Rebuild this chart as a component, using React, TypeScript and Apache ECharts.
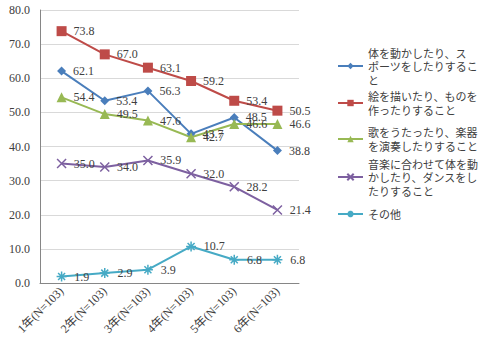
import React, { useEffect, useRef } from "react";
import * as echarts from "echarts";

const categories = ["1年(N=103)", "2年(N=103)", "3年(N=103)", "4年(N=103)", "5年(N=103)", "6年(N=103)"];
const seriesNames = [
  "体を動かしたり、スポーツをしたりすること",
  "絵を描いたり、ものを作ったりすること",
  "歌をうたったり、楽器を演奏したりすること",
  "音楽に合わせて体を動かしたり、ダンスをしたりすること",
  "その他",
];
const legendLines = [
  ["体を動かしたり、ス", "ポーツをしたりするこ", "と"],
  ["絵を描いたり、ものを", "作ったりすること"],
  ["歌をうたったり、楽器", "を演奏したりすること"],
  ["音楽に合わせて体を動", "かしたり、ダンスをし", "たりすること"],
  ["その他"],
];
const sports = [62.1, 53.4, 56.3, 43.7, 48.5, 38.8];
const drawing = [73.8, 67.0, 63.1, 59.2, 53.4, 50.5];
const singing = [54.4, 49.5, 47.6, 42.7, 46.6, 46.6];
const dancing = [35.0, 34.0, 35.9, 32.0, 28.2, 21.4];
const other = [1.9, 2.9, 3.9, 10.7, 6.8, 6.8];
const yTicks = { min: 0, max: 80, interval: 10 };

const colors = ["#4A7EBB", "#BE4B48", "#98B954", "#7D60A0", "#46AAC5"];
const symbols = [
  "diamond",
  "rect",
  "triangle",
  "path://M0,0L10,10M10,0L0,10",
  "path://M0,5L10,5M5,0L5,10M1.5,1.5L8.5,8.5M8.5,1.5L1.5,8.5",
];
const symbolSizes = [9, 10, 10, 9, 10];
const legendY = [66, 103, 139, 177, 214];

export default function App() {
  const ref = useRef<HTMLDivElement>(null);
  useEffect(() => {
    if (!ref.current) return;
    const chart = echarts.init(ref.current, null, { renderer: "svg" });
    const data = [sports, drawing, singing, dancing, other];
    const lh = 13.5;
    const legends = seriesNames.map((name, i) => {
      const n = legendLines[i].length;
      const box = Math.max(8, (2 * n - 1) * lh);
      return {
        data: [name],
        left: 337,
        top: legendY[i] - box / 2,
        orient: "vertical",
        padding: 0,
        itemWidth: 25,
        itemHeight: 8,
        itemGap: 2,
        selectedMode: false,
        formatter: () => legendLines[i].join("\n"),
        textStyle: {
          fontFamily: "'Noto Sans CJK JP', sans-serif",
          fontSize: 11,
          lineHeight: lh,
          color: "#404040",
          padding: [(n - 1) * lh, 0, 0, 0],
        },
      };
    });
    chart.setOption({
      animation: false,
      backgroundColor: "#ffffff",
      grid: { left: 40, right: 182, top: 10, bottom: 61 },
      legend: legends,
      xAxis: {
        type: "category",
        data: categories,
        boundaryGap: true,
        axisLine: { lineStyle: { color: "#868686" } },
        axisTick: { show: false },
        axisLabel: {
          rotate: 45,
          interval: 0,
          fontFamily: "'Liberation Serif', 'Noto Sans CJK JP', serif",
          fontSize: 12,
          color: "#404040",
          margin: 6,
        },
      },
      yAxis: {
        type: "value",
        min: yTicks.min,
        max: yTicks.max,
        interval: yTicks.interval,
        axisLine: { show: true, lineStyle: { color: "#868686" } },
        axisTick: { show: false },
        splitLine: { lineStyle: { color: "#D9D9D9" } },
        axisLabel: {
          formatter: (v: number) => v.toFixed(1),
          fontFamily: "'Liberation Serif', serif",
          fontSize: 12,
          color: "#404040",
          margin: 10,
        },
      },
      series: seriesNames.map((name, i) => ({
        name,
        type: "line",
        data: data[i],
        symbol: symbols[i],
        symbolSize: symbolSizes[i],
        lineStyle: { color: colors[i], width: 2 },
        itemStyle: {
          color: colors[i],
          borderColor: colors[i],
          borderWidth: i >= 3 ? 1.5 : 0,
        },
        label: {
          show: true,
          position: "right",
          distance: 7,
          formatter: (p: any) => p.value.toFixed(1),
          fontFamily: "'Liberation Serif', serif",
          fontSize: 12,
          color: "#404040",
        },
      })),
    });
    return () => chart.dispose();
  }, []);
  return (
    <div
      ref={ref}
      style={{ position: "absolute", left: 0, top: 0, width: 481, height: 344 }}
    />
  );
}
